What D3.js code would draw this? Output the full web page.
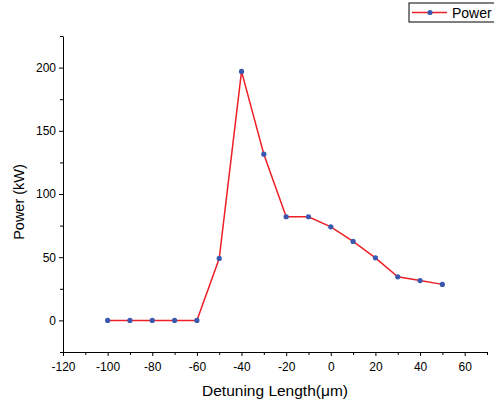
<!DOCTYPE html>
<html>
<head>
<meta charset="utf-8">
<script src="https://cdn.jsdelivr.net/npm/d3@7"></script>
<style>
  body { margin: 0; background: #fff; }
  svg { font-family: "Liberation Sans", Arial, sans-serif; }
</style>
</head>
<body>
<div id="chart"></div>
<script>
const detuning = [-100, -90, -80, -70, -60, -50, -40, -30, -20, -10, 0, 10, 20, 30, 40, 50];
const power = [0, 0, 0, 0, 0, 49, 197, 131.5, 82, 82, 74, 62.5, 49.5, 34.5, 31.5, 28.5];
const xTicks = [-120, -100, -80, -60, -40, -20, 0, 20, 40, 60];
const yTicks = [0, 50, 100, 150, 200];

const width = 494, height = 403;
const margin = { top: 36, right: 7, bottom: 51, left: 63 };

const svg = d3.select("#chart").append("svg")
  .attr("width", width)
  .attr("height", height);

const x = d3.scaleLinear().domain([-120, 70]).range([margin.left, width - margin.right]);
const y = d3.scaleLinear().domain([-25, 225]).range([height - margin.bottom, margin.top]);

// minor ticks
const xMinor = d3.range(-110, 71, 20);
const yMinor = d3.range(-25, 226, 50);
const fmt = d => String(d); // plain hyphen minus like the original

const xAxis = svg.append("g")
  .attr("transform", `translate(0,${y(-25)})`)
  .call(d3.axisBottom(x).tickValues(xTicks).tickFormat(fmt).tickSize(4).tickSizeOuter(0));
svg.append("g")
  .attr("transform", `translate(0,${y(-25)})`)
  .call(d3.axisBottom(x).tickValues(xMinor).tickSize(3).tickFormat("").tickSizeOuter(0))
  .select(".domain").remove();

const yAxis = svg.append("g")
  .attr("transform", `translate(${x(-120)},0)`)
  .call(d3.axisLeft(y).tickValues(yTicks).tickFormat(fmt).tickSize(4).tickSizeOuter(0));
svg.append("g")
  .attr("transform", `translate(${x(-120)},0)`)
  .call(d3.axisLeft(y).tickValues(yMinor).tickSize(3).tickFormat("").tickSizeOuter(0))
  .select(".domain").remove();

svg.selectAll(".tick text").attr("font-size", 12).attr("fill", "#000")
  .attr("font-family", "Liberation Sans, Arial, sans-serif");
xAxis.selectAll(".tick text").attr("dy", "1.0em");
yAxis.selectAll(".tick text").attr("x", -7);
svg.selectAll(".domain, .tick line").attr("stroke", "#000");

// axis titles
svg.append("text")
  .attr("x", (x(-120) + x(70)) / 2)
  .attr("y", 396)
  .attr("text-anchor", "middle")
  .attr("font-size", 15.5)
  .text("Detuning Length(\u03bcm)");

svg.append("text")
  .attr("transform", `translate(24,202) rotate(-90)`)
  .attr("text-anchor", "middle")
  .attr("font-size", 14.5)
  .text("Power (kW)");

const pts = detuning.map((d, i) => [d, power[i]]);

svg.append("path")
  .datum(pts)
  .attr("fill", "none")
  .attr("stroke", "#ee2027")
  .attr("stroke-width", 1.5)
  .attr("d", d3.line().x(d => x(d[0])).y(d => y(d[1])));

svg.selectAll("circle.pt")
  .data(pts)
  .enter()
  .append("circle")
  .attr("class", "pt")
  .attr("cx", d => x(d[0]))
  .attr("cy", d => y(d[1]))
  .attr("r", 2.6)
  .attr("fill", "#3a58b0");

// legend
const lg = svg.append("g").attr("transform", "translate(409,3)");
lg.append("rect")
  .attr("width", 90).attr("height", 19)
  .attr("fill", "#fff").attr("stroke", "#000").attr("stroke-width", 1);
lg.append("line")
  .attr("x1", 3).attr("x2", 38).attr("y1", 9.5).attr("y2", 9.5)
  .attr("stroke", "#ee2027").attr("stroke-width", 1.5);
lg.append("circle").attr("cx", 21).attr("cy", 9.5).attr("r", 2.6).attr("fill", "#3a58b0");
lg.append("text")
  .attr("x", 43).attr("y", 14.5)
  .attr("font-size", 14)
  .text("Power");
</script>
</body>
</html>
